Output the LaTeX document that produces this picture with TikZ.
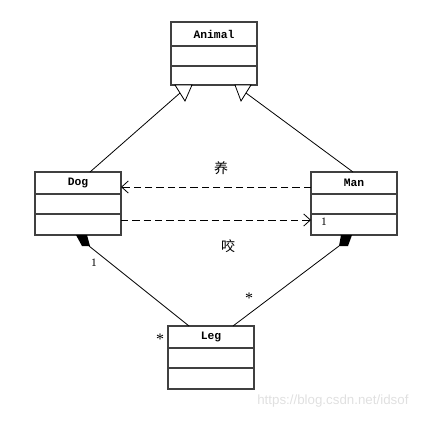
\documentclass[tikz,border=0pt]{standalone}
\usepackage{fontspec}
\setmainfont{Liberation Serif}
\newfontfamily\cjk{Noto Sans CJK SC}
\newfontfamily\clsfont{Liberation Mono}
\newfontfamily\urlfont{Liberation Sans}
\usetikzlibrary{positioning,arrows.meta,calc}

\begin{document}
\begin{tikzpicture}[
    x=0.75pt, y=-0.75pt,
    cls/.style={rectangle, draw=black!75, line width=0.9pt, minimum width=64.5pt,
                minimum height=47.25pt, inner sep=0pt, outer sep=0pt},
    title/.style={font=\clsfont\bfseries\fontsize{8.5}{10}\selectfont, inner sep=0pt},
    link/.style={line width=0.6pt},
    dep/.style={link, dash pattern=on 5.5pt off 3pt, -{Straight Barb[length=5pt,width=9pt]}},
    mult/.style={font=\fontsize{8.5}{9}\selectfont, inner sep=0pt},
    star/.style={font=\fontsize{12}{12}\selectfont, inner sep=0pt},
    verb/.style={font=\cjk\fontsize{10.5}{12}\selectfont, inner sep=0pt},
]
    \useasboundingbox (0,0) rectangle (429,421);

    % Classes
    \node[cls] (animal) at (214,53.5) {};
    \node[cls] (dog) at (78,203.5) {};
    \node[cls] (man) at (354,203.5) {};
    \node[cls] (leg) at (211,357.5) {};

    % Titles and compartments
    \foreach \c/\t/\a in {animal/Animal/24, dog/Dog/22, man/Man/22, leg/Leg/22}{
        \node[title] (\c-t) at ($(\c.north)+(0,\a/2)$) {\t};
        \draw[black!75, line width=0.9pt] ($(\c.north west)+(0,\a)$) -- ($(\c.north east)+(0,\a)$);
        \draw[black!75, line width=0.9pt] ($(\c.north west)+(0,\a+20)$) -- ($(\c.north east)+(0,\a+20)$);
    }

    % Generalization
    \draw[link] ($(dog.north)+(12,0)$) -- ($(animal.south)+(-34,8)$);
    \draw[link] ($(man.north)+(-1,0)$) -- ($(animal.south)+(32,8)$);
    \draw[link, fill=white] ($(animal.south)+(-39,0)$) -- ($(animal.south)+(-22,0)$)
        -- ($(animal.south)+(-29,16)$) -- cycle;
    \draw[link, fill=white] ($(animal.south)+(21,0)$) -- ($(animal.south)+(37,0)$)
        -- ($(animal.south)+(27,16)$) -- cycle;

    % Dependencies
    \draw[dep] ($(man.north west)+(0,15)$) -- ($(dog.north east)+(0,15)$);
    \draw[dep] ($(dog.north west)+(86,48)$) -- ($(man.north west)+(0,48)$);
    \node[verb] (feed) at (221,168) {养};
    \node[verb] (bite) at (228,246) {咬};

    % Composition
    \draw[link] ($(dog.south)+(11,11)$) -- ($(leg.north)+(-22,0)$);
    \draw[link] ($(man.south)+(-15,11)$) -- ($(leg.north)+(22,0)$);
    \fill ($(dog.south)+(-2,0)$) -- ($(dog.south)+(9,0)$) -- ($(dog.south)+(12,11)$)
        -- ($(dog.south)+(4,11)$) -- cycle;
    \fill ($(man.south)+(-13,0)$) -- ($(man.south)+(-2,0)$) -- ($(man.south)+(-6,11)$)
        -- ($(man.south)+(-15,11)$) -- cycle;

    % Multiplicities
    \node[mult] (m1) at (94,263) {1};
    \node[star] (m2) at (249,298) {*};
    \node[star] (m3) at (160,339) {*};
    \node[mult] (m4) at (324,222) {1};

    \node[font=\urlfont\fontsize{10}{12}\selectfont, text=black!12, anchor=west, inner sep=0pt]
        (mark) at (257,401) {https://blog.csdn.net/idsof};
\end{tikzpicture}
\end{document}
